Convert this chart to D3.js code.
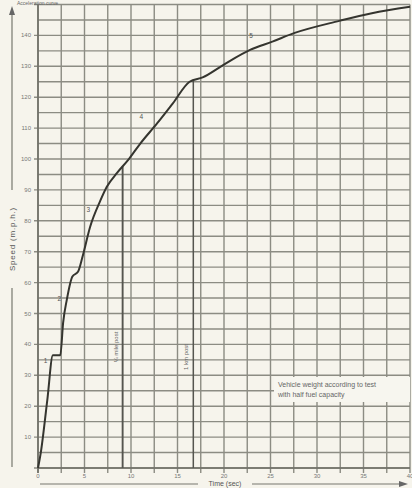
<!DOCTYPE html>
<html>
<head>
<meta charset="utf-8">
<script src="https://cdn.jsdelivr.net/npm/d3@7"></script>
<style>
  html, body { margin: 0; padding: 0; background: #f6f4ec; }
  svg { display: block; font-family: "Liberation Sans", Arial, sans-serif; }
</style>
</head>
<body>
<div id="chart"></div>
<script>
// acceleration curve, time (s) against speed (mph)
const times  = [0, 0.3, 1.0, 1.6, 2.4, 2.7, 3.1, 3.7, 4.3, 4.8, 5.6, 6.7, 7.4, 8.5, 9.7, 11.0, 12.8, 14.5, 16.3, 17.7, 19.9, 22.8, 25.2, 27.6, 32.4, 35.9, 40.0];
const speeds = [0, 5, 22, 36.5, 36.5, 47, 54.5, 62, 63.5, 68.5, 78, 86.5, 91, 95.5, 99.7, 105, 111.5, 118, 125, 126.4, 130.4, 135.3, 138, 140.8, 144.7, 147.2, 149.3];

const xTicks = [0, 5, 10, 15, 20, 25, 30, 35, 40];
const yTicks = [10, 20, 30, 40, 50, 60, 70, 80, 90, 100, 110, 120, 130, 140];

const markerTimes  = [9.1, 16.7];
const markerLabels = ["¼ mile post", "1 km post"];

const gearNames  = ["1", "2", "3", "4", "5"];
const gearTimes  = [0.8, 2.3, 5.4, 11.1, 22.9];
const gearSpeeds = [34, 54, 83, 113, 139];

const noteLines = ["Vehicle weight according to test", "with half fuel capacity"];

const W = 412, H = 488;
const svg = d3.select('#chart').append('svg')
    .attr('width', W)
    .attr('height', H);

svg.append('rect')
    .attr('width', W)
    .attr('height', H)
    .attr('fill', '#f6f4ec');

const x = d3.scaleLinear().domain([0, 40]).range([38, 410]);
const y = d3.scaleLinear().domain([0, 150]).range([468, 4.5]);

const grid = svg.append('g')
    .attr('stroke', '#8c8c83')
    .attr('stroke-width', 1.4);

grid.selectAll('line.v')
    .data(d3.range(0, 40.01, 2.5))
    .join('line')
        .attr('class', 'v')
        .attr('x1', d => x(d))
        .attr('x2', d => x(d))
        .attr('y1', y(150))
        .attr('y2', y(0) + 5);

grid.selectAll('line.h')
    .data(d3.range(0, 150.01, 5))
    .join('line')
        .attr('class', 'h')
        .attr('x1', d => d % 10 === 0 ? x(0) - 4 : x(0))
        .attr('x2', x(40))
        .attr('y1', d => y(d))
        .attr('y2', d => y(d));

// axis frame
svg.append('line')
    .attr('x1', x(0)).attr('x2', x(0))
    .attr('y1', y(150)).attr('y2', y(0) + 5)
    .attr('stroke', '#6e6e66').attr('stroke-width', 1.6);
svg.append('line')
    .attr('x1', x(0)).attr('x2', x(40))
    .attr('y1', y(0)).attr('y2', y(0))
    .attr('stroke', '#6e6e66').attr('stroke-width', 1.6);

// note box hides the grid
const note = svg.append('g');
note.append('rect')
    .attr('x', 274).attr('y', 377)
    .attr('width', 136).attr('height', 25)
    .attr('fill', '#f7f6ef');
note.selectAll('text')
    .data(noteLines)
    .join('text')
        .attr('x', 278)
        .attr('y', (d, i) => 387 + i * 10)
        .attr('font-size', 7)
        .attr('fill', '#666')
        .text(d => d);

// tick labels
svg.append('g')
    .selectAll('text')
    .data(yTicks)
    .join('text')
        .attr('x', 31)
        .attr('y', d => y(d) + 2)
        .attr('text-anchor', 'end')
        .attr('font-size', 6)
        .attr('fill', '#777')
        .text(d => d);

svg.append('g')
    .selectAll('text')
    .data(xTicks)
    .join('text')
        .attr('x', d => x(d))
        .attr('y', 478)
        .attr('text-anchor', 'middle')
        .attr('font-size', 6)
        .attr('fill', '#777')
        .text(d => d);

// markers dropped from the curve
const speedAt = t => {
    const i = d3.bisectLeft(times, t);
    const k = (t - times[i - 1]) / (times[i] - times[i - 1]);
    return speeds[i - 1] + k * (speeds[i] - speeds[i - 1]);
};
svg.append('g')
    .selectAll('line')
    .data(markerTimes)
    .join('line')
        .attr('x1', d => x(d)).attr('x2', d => x(d))
        .attr('y1', d => y(speedAt(d))).attr('y2', y(0))
        .attr('stroke', '#55554f')
        .attr('stroke-width', (d, i) => i === 0 ? 1.9 : 1.5);
svg.append('g')
    .selectAll('text')
    .data(markerTimes)
    .join('text')
        .attr('transform', (d, i) => `translate(${x(d) - 5},${i === 0 ? 347 : 357}) rotate(-90)`)
        .attr('text-anchor', 'middle')
        .attr('font-size', 6)
        .attr('fill', '#666')
        .text((d, i) => markerLabels[i]);

// the curve
const line = d3.line()
    .x((d, i) => x(times[i]))
    .y(d => y(d))
    .curve(d3.curveMonotoneX);
svg.append('path')
    .datum(speeds)
    .attr('d', line)
    .attr('fill', 'none')
    .attr('stroke', '#35352f')
    .attr('stroke-width', 2);

svg.append('g')
    .selectAll('text')
    .data(gearNames)
    .join('text')
        .attr('x', (d, i) => x(gearTimes[i]))
        .attr('y', (d, i) => y(gearSpeeds[i]))
        .attr('text-anchor', 'middle')
        .attr('font-size', 6.5)
        .attr('fill', '#555')
        .text(d => d);

// axis titles with arrows
const ax = svg.append('g')
    .attr('stroke', '#77776f')
    .attr('stroke-width', 1.2);
ax.append('line').attr('x1', 12).attr('x2', 12).attr('y1', 14).attr('y2', 190);
ax.append('line').attr('x1', 12).attr('x2', 12).attr('y1', 288).attr('y2', 467);
ax.append('line').attr('x1', 40).attr('x2', 198).attr('y1', 484).attr('y2', 484);
ax.append('line').attr('x1', 252).attr('x2', 400).attr('y1', 484).attr('y2', 484);
svg.append('path')
    .attr('d', 'M12,6 L9,15 L15,15 Z')
    .attr('fill', '#666');
svg.append('path')
    .attr('d', 'M408,484 L399,481 L399,487 Z')
    .attr('fill', '#666');

svg.append('text')
    .attr('transform', 'translate(15,239) rotate(-90)')
    .attr('text-anchor', 'middle')
    .attr('font-size', 8)
    .attr('letter-spacing', 0.8)
    .attr('fill', '#555')
    .text('Speed (m.p.h.)');

svg.append('text')
    .attr('x', 225)
    .attr('y', 486)
    .attr('text-anchor', 'middle')
    .attr('font-size', 7)
    .attr('fill', '#555')
    .text('Time (sec)');

svg.append('text')
    .attr('x', 17)
    .attr('y', 4.5)
    .attr('font-size', 5)
    .attr('fill', '#666')
    .text('Acceleration curve');
</script>
</body>
</html>
